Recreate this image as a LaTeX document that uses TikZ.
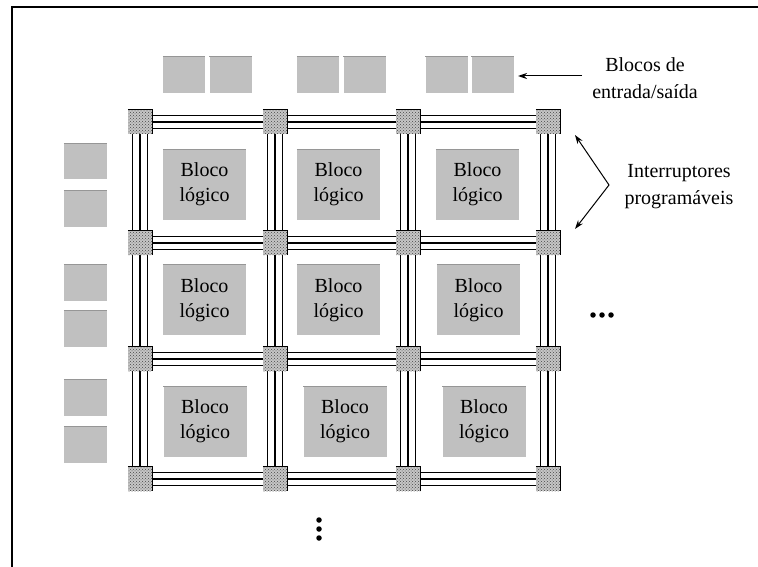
\documentclass[tikz,border=0pt]{standalone}
\usepackage{fontspec}
\setmainfont{Liberation Serif}
\usetikzlibrary{patterns,arrows.meta,calc}
\pgfdeclarelayer{background}
\pgfsetlayers{background,main}
\definecolor{blockgray}{RGB}{192,192,192}
\definecolor{blockedge}{RGB}{150,150,150}
\tikzset{
  swbox/.style={minimum size=24pt, inner sep=0pt, fill=gray!45,
    postaction={pattern=crosshatch dots, pattern color=gray!55!black}},
  logicbox/.style={fill=blockgray, minimum width=83pt, minimum height=70pt,
    inner sep=0pt, align=center, font=\fontsize{20}{25}\selectfont},
  iobox/.style={fill=blockgray, minimum width=42pt, minimum height=36pt, inner sep=0pt},
  wire/.style={line width=1.4pt, black},
  caption/.style={align=center, font=\fontsize{20}{27}\selectfont},
  pointer/.style={line width=1pt, -{Stealth[length=9pt,width=6pt]}},
  dotmark/.style={circle, fill=black, inner sep=0pt, minimum size=5.5pt},
}
\begin{document}
\begin{tikzpicture}[x=1pt,y=-1pt]
\useasboundingbox (0,0) rectangle (758,567);

% frame
\draw[line width=1.5pt] (12,567) -- (12,7) -- (758,7);

% programmable switches
\foreach \r/\y in {1/122,2/243,3/359,4/479}
  \foreach \c/\x in {1/140,2/275,3/408,4/548}{
    \node[swbox] (s\r\c) at (\x,\y) {};
    \draw[line width=1pt] (s\r\c.north west) -- (s\r\c.north east) -- (s\r\c.south east);
  }

% routing channels (three tracks each)
\begin{pgfonlayer}{background}
\foreach \r in {1,2,3,4}
  \foreach \c/\n in {1/2,2/3,3/4}
    \foreach \d in {-6.5,0,6.5}
      \draw[wire] ([yshift=\d pt]s\r\c.center) -- ([yshift=\d pt]s\r\n.center);
\foreach \c in {1,2,3,4}
  \foreach \r/\n in {1/2,2/3,3/4}
    \foreach \d in {-7.5,0,7.5}
      \draw[wire] ([xshift=\d pt]s\r\c.center) -- ([xshift=\d pt]s\n\c.center);
\end{pgfonlayer}

% logic blocks
\foreach \nm/\x/\y in {b11/204.5/184.5, b12/338.5/184.5, b13/477.5/184.5,
                       b21/204.5/300, b22/338.5/300, b23/478.5/300,
                       b31/205/421.5, b32/345/421.5, b33/484/421.5}{
  \node[logicbox] (\nm) at (\x,\y) {Bloco\\lógico};
  \draw[blockedge, line width=0.8pt] (\nm.north west) -- (\nm.north east);
}

% input/output blocks, top row
\foreach \nm/\x in {t1/184, t2/230.5, t3/318, t4/364.5, t5/446.5, t6/492.5}{
  \node[iobox] (\nm) at (\x,75) {};
  \draw[blockedge, line width=0.8pt] (\nm.north west) -- (\nm.north east);
}
% input/output blocks, left column
\foreach \nm/\y in {l1/161.5, l2/208.5, l3/283, l4/329, l5/398, l6/444.5}{
  \node[iobox, minimum width=43pt] (\nm) at (85.5,\y) {};
  \draw[blockedge, line width=0.8pt] (\nm.north west) -- (\nm.north east);
}

% labels and pointers
\node[caption] (io) at (645,78) {Blocos de\\entrada/saída};
\coordinate (ioarrow) at (582,76);
\coordinate (iotip) at (518,76);
\draw[pointer] (ioarrow) -- (iotip);

\node[caption] (sw) at (679,187) {Interruptores\\programáveis};
\coordinate (swfork) at (609,185);
\coordinate (swup) at (575,135);
\coordinate (swdown) at (575,229);
\draw[pointer] (swfork) -- (swup);
\draw[pointer] (swfork) -- (swdown);

% continuation marks
\foreach \i/\x in {1/593,2/602,3/611}
  \node[dotmark] (h\i) at (\x,315) {};
\foreach \i/\y in {1/520,2/529,3/538}
  \node[dotmark] (v\i) at (319,\y) {};
\end{tikzpicture}
\end{document}
